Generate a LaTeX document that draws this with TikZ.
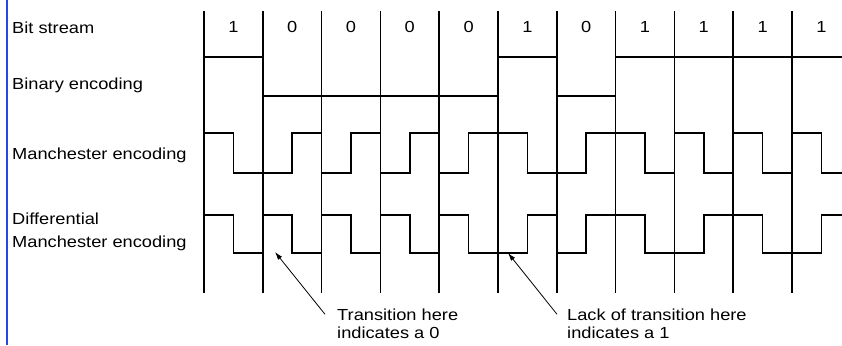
\documentclass[tikz,border=0pt]{standalone}
\usepackage{fontspec}
\setmainfont[FakeStretch=1.14]{Liberation Sans}
\usepackage{tikz}
\usepackage{xcolor}
\usetikzlibrary{arrows.meta}
\definecolor{edgeblue}{RGB}{40,70,230}
\newcommand{\drawtext}{\node[anchor=base west, inner sep=0, font=\fontsize{16}{18}\selectfont]}
\newcommand{\drawbit}{\node[anchor=base, inner sep=0, font=\fontsize{16}{18}\selectfont]}
\newcommand{\wave}{\draw[line width=1.6pt, line join=miter]}
\newcommand{\arrnote}{\draw[line width=0.8pt, -{Latex[length=8pt,width=5pt]}]}

\begin{document}
\begin{tikzpicture}[x=1pt, y=-1pt]
\useasboundingbox (0,0) rectangle (842,345);
\draw[edgeblue, line width=2pt] (7,0) -- (7,345);

%row labels
\drawtext (lstream) at (12,34) {Bit stream};
\drawtext (lbinary) at (12,89) {Binary encoding};
\drawtext (lmanch) at (12,159) {Manchester encoding};
\drawtext (ldiff) at (12,224) {Differential};
\drawtext (ldiffb) at (12,247) {Manchester encoding};

%bit boundaries
\wave (204,11) -- (204,293);
\wave (262.8,11) -- (262.8,293);
\wave (321.6,11) -- (321.6,293);
\wave (380.4,11) -- (380.4,293);
\wave (439.2,11) -- (439.2,293);
\wave (498,11) -- (498,293);
\wave (556.8,11) -- (556.8,293);
\wave (615.6,11) -- (615.6,293);
\wave (674.4,11) -- (674.4,293);
\wave (733.2,11) -- (733.2,293);
\wave (792,11) -- (792,293);

%bit stream
\drawbit (bit1) at (233.4,33) {1};
\drawbit (bit2) at (292.2,33) {0};
\drawbit (bit3) at (351,33) {0};
\drawbit (bit4) at (409.8,33) {0};
\drawbit (bit5) at (468.6,33) {0};
\drawbit (bit6) at (527.4,33) {1};
\drawbit (bit7) at (586.2,33) {0};
\drawbit (bit8) at (645,33) {1};
\drawbit (bit9) at (703.8,33) {1};
\drawbit (bit10) at (762.6,33) {1};
\drawbit (bit11) at (821.4,33) {1};

%binary
\wave (204,57) -- (262.8,57) -- (262.8,96) -- (498,96) -- (498,57) -- (556.8,57)
  -- (556.8,96) -- (615.6,96) -- (615.6,57) -- (842,57);

%manchester
\wave (204,133) -- (233.4,133) -- (233.4,173) -- (292.2,173) -- (292.2,133) -- (321.6,133)
  -- (321.6,173) -- (351,173) -- (351,133) -- (380.4,133) -- (380.4,173) -- (409.8,173)
  -- (409.8,133) -- (439.2,133) -- (439.2,173) -- (468.6,173) -- (468.6,133) -- (527.4,133)
  -- (527.4,173) -- (586.2,173) -- (586.2,133) -- (645,133) -- (645,173) -- (674.4,173)
  -- (674.4,133) -- (703.8,133) -- (703.8,173) -- (733.2,173) -- (733.2,133) -- (762.6,133)
  -- (762.6,173) -- (792,173) -- (792,133) -- (821.4,133) -- (821.4,173) -- (842,173);

%differential manchester
\wave (204,215) -- (233.4,215) -- (233.4,253) -- (262.8,253) -- (262.8,215) -- (292.2,215)
  -- (292.2,253) -- (321.6,253) -- (321.6,215) -- (351,215) -- (351,253) -- (380.4,253)
  -- (380.4,215) -- (409.8,215) -- (409.8,253) -- (439.2,253) -- (439.2,215) -- (468.6,215)
  -- (468.6,253) -- (527.4,253) -- (527.4,215) -- (556.8,215) -- (556.8,253) -- (586.2,253)
  -- (586.2,215) -- (645,215) -- (645,253) -- (703.8,253) -- (703.8,215) -- (762.6,215)
  -- (762.6,253) -- (821.4,253) -- (821.4,215) -- (842,215);

%notes
\coordinate (tip0) at (275,252);
\coordinate (tip1) at (508,253);
\drawtext (note0) at (337,320) {Transition here};
\drawtext (note0b) at (337,338) {indicates a 0};
\drawtext (note1) at (567,320) {Lack of transition here};
\drawtext (note1b) at (567,338) {indicates a 1};
\arrnote ([xshift=-12pt]note0.west) -- (tip0);
\arrnote ([xshift=-10pt]note1.west) -- (tip1);
\end{tikzpicture}
\end{document}
